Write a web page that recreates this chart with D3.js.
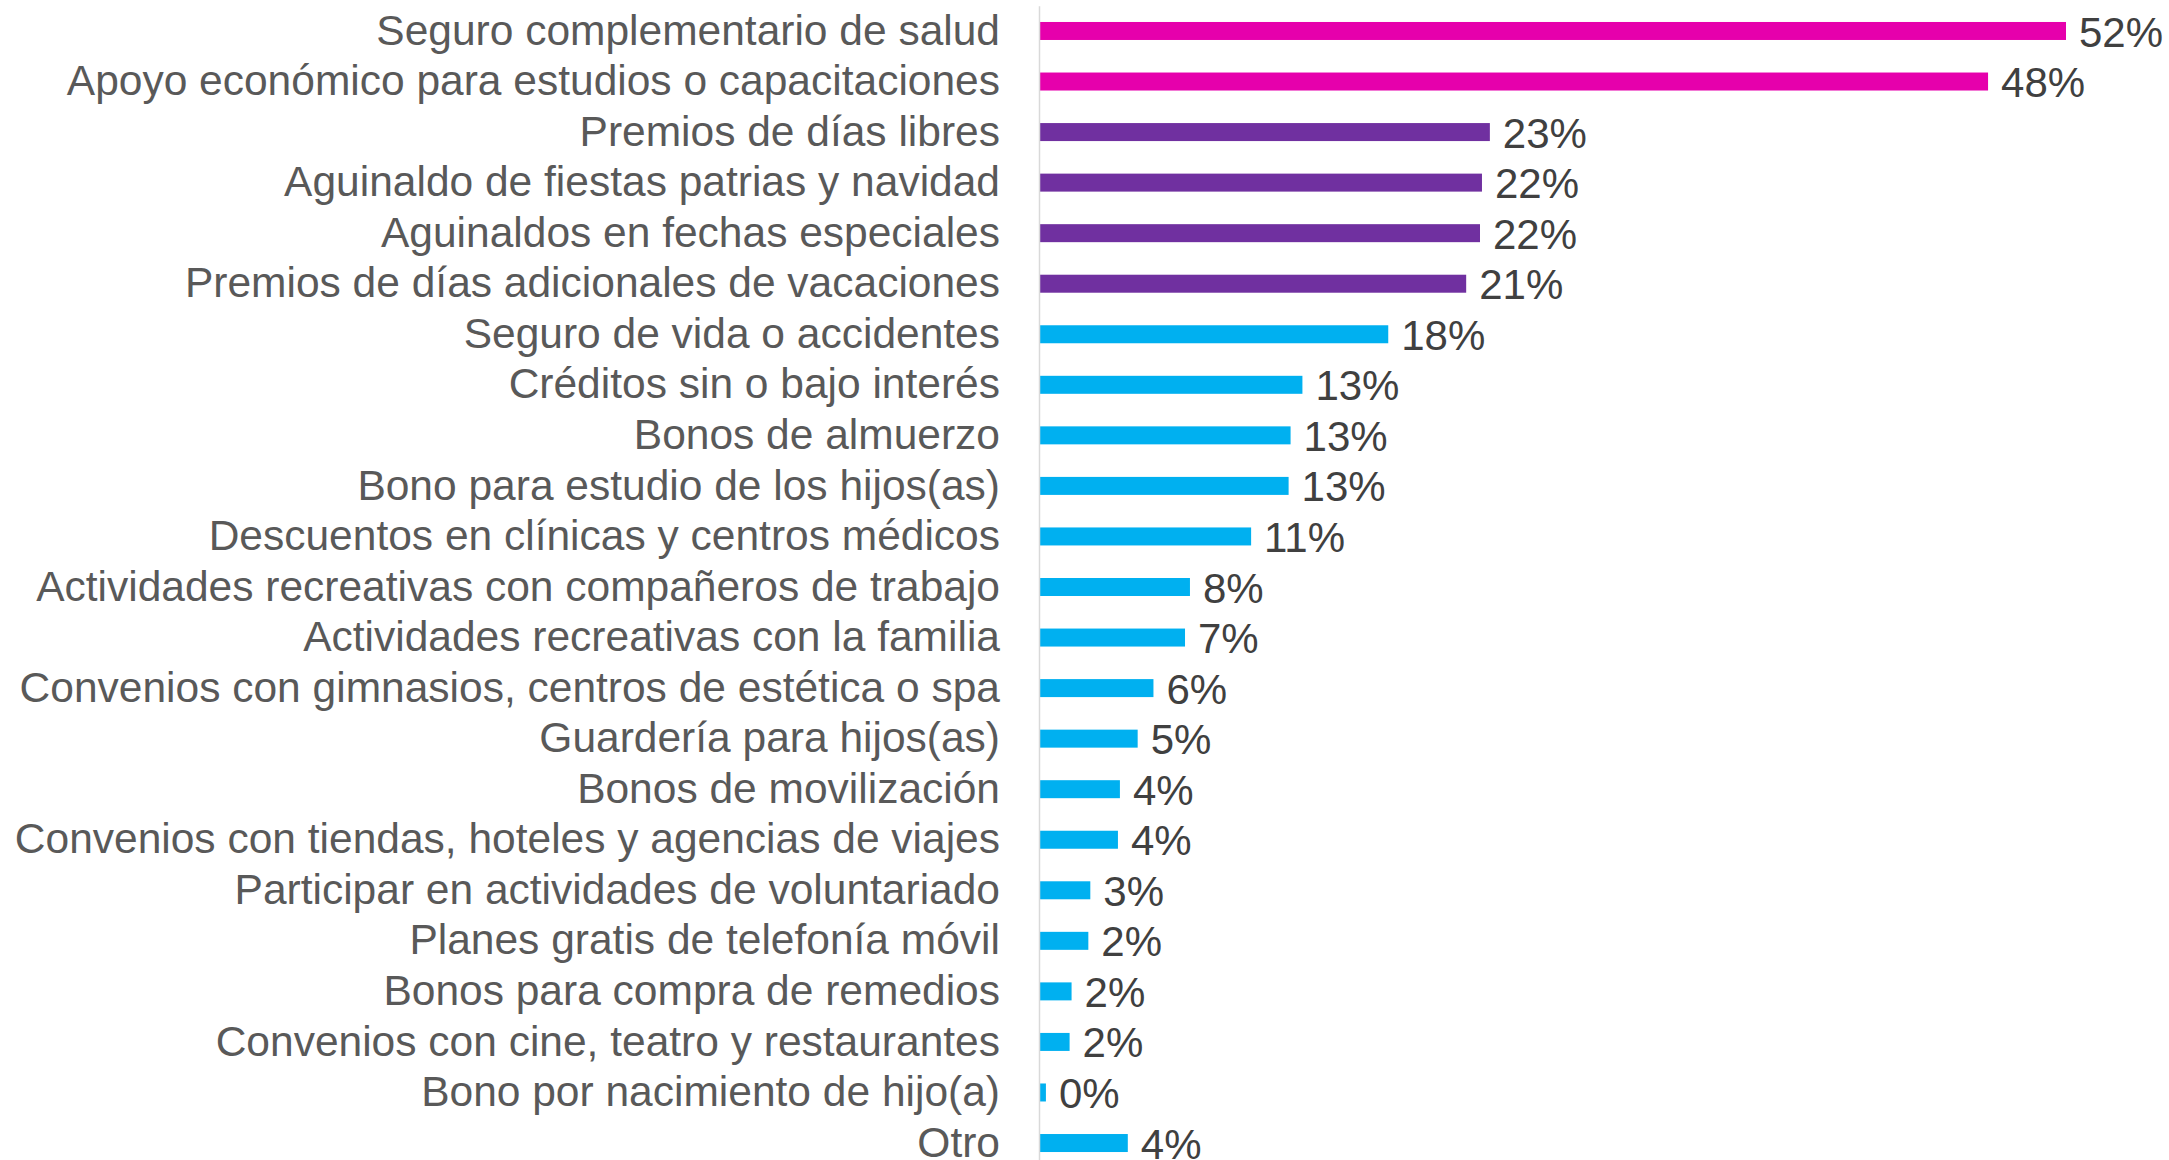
<!DOCTYPE html>
<meta charset="utf-8">
<head>
<title>Beneficios valorados</title>
<style>
  html, body {
    margin: 0;
    padding: 0;
    background: #fff;
  }
  svg {
    display: block;
  }
  .tick text {
    font-family: "Liberation Sans", Arial, sans-serif;
    font-size: 42.5px;
    fill: #595959;
  }
  .value {
    font-family: "Liberation Sans", Arial, sans-serif;
    font-size: 42px;
    fill: #404040;
  }
</style>
</head>
<body>
<script src="https://cdn.jsdelivr.net/npm/d3@7"></script>

<div id="chart"></div>

<script>

  // data
  var categories = [
    "Seguro complementario de salud",
    "Apoyo económico para estudios o capacitaciones",
    "Premios de días libres",
    "Aguinaldo de fiestas patrias y navidad",
    "Aguinaldos en fechas especiales",
    "Premios de días adicionales de vacaciones",
    "Seguro de vida o accidentes",
    "Créditos sin o bajo interés",
    "Bonos de almuerzo",
    "Bono para estudio de los hijos(as)",
    "Descuentos en clínicas y centros médicos",
    "Actividades recreativas con compañeros de trabajo",
    "Actividades recreativas con la familia",
    "Convenios con gimnasios, centros de estética o spa",
    "Guardería para hijos(as)",
    "Bonos de movilización",
    "Convenios con tiendas, hoteles y agencias de viajes",
    "Participar en actividades de voluntariado",
    "Planes gratis de telefonía móvil",
    "Bonos para compra de remedios",
    "Convenios con cine, teatro y restaurantes",
    "Bono por nacimiento de hijo(a)",
    "Otro"
  ];

  var values = [52.0, 48.05, 22.8, 22.4, 22.3, 21.6, 17.65, 13.3, 12.7, 12.6,
                10.7, 7.6, 7.35, 5.75, 4.95, 4.05, 3.95, 2.55, 2.45, 1.6, 1.5, 0.3, 4.45];

  var valueLabels = ["52%", "48%", "23%", "22%", "22%", "21%", "18%", "13%", "13%", "13%",
                     "11%", "8%", "7%", "6%", "5%", "4%", "4%", "3%", "2%", "2%", "2%", "0%", "4%"];

  var groups = ["top", "top", "mid", "mid", "mid", "mid", "rest", "rest", "rest", "rest",
                "rest", "rest", "rest", "rest", "rest", "rest", "rest", "rest", "rest", "rest",
                "rest", "rest", "rest"];

  var width = 2169,
      height = 1160;

  var color = d3.scaleOrdinal()
      .domain(["top", "mid", "rest"])
      .range(["#e600ac", "#7030a0", "#00b0f0"]);

  var x = d3.scaleLinear()
      .domain([0, 52])
      .range([1040, 2066]);

  var y = d3.scaleBand()
      .domain(categories)
      .range([5.7, 1168.3])
      .paddingInner(0.644)
      .paddingOuter(0.322);

  var svg = d3.select('#chart')
      .append('svg')
      .attr('width', width)
      .attr('height', height);

  var rows = categories.map(function (c, i) {
    return { name: c, value: values[i], label: valueLabels[i], group: groups[i] };
  });

  svg.append('g')
      .selectAll('rect')
      .data(rows)
      .enter()
      .append('rect')
      .attr('x', x(0))
      .attr('y', function (d) { return y(d.name); })
      .attr('width', function (d) { return x(d.value) - x(0); })
      .attr('height', y.bandwidth())
      .attr('fill', function (d) { return color(d.group); });

  var axis = svg.append('g')
      .attr('transform', 'translate(1039,0)')
      .call(d3.axisLeft(y).tickSize(0).tickPadding(39));

  axis.attr('font-family', null).attr('font-size', null);

  axis.select('.domain')
      .attr('stroke', '#d9d9d9')
      .attr('stroke-width', 1.5);

  svg.append('g')
      .selectAll('text')
      .data(rows)
      .enter()
      .append('text')
      .attr('class', 'value')
      .attr('x', function (d) { return x(d.value) + 13; })
      .attr('y', function (d) { return y(d.name) + y.bandwidth() / 2; })
      .attr('dy', '0.37em')
      .text(function (d) { return d.label; });

</script>
</body>
